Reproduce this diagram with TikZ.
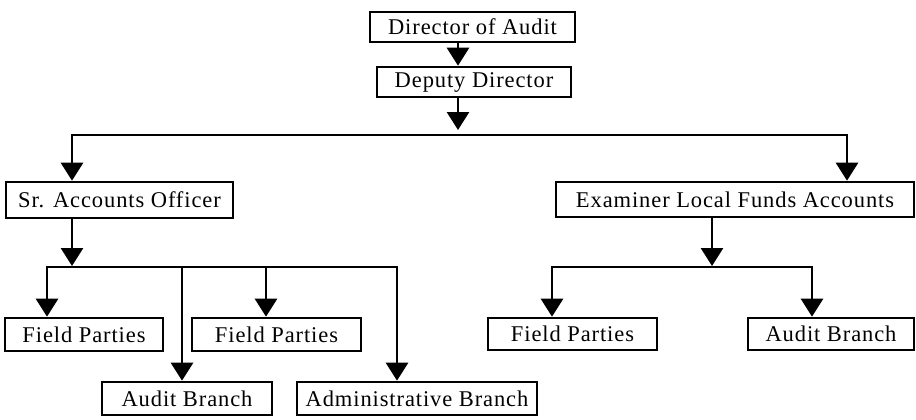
\documentclass[tikz,border=0pt]{standalone}
\usepackage{fontspec}
\setmainfont{Liberation Serif}[LetterSpace=4]
\usetikzlibrary{arrows.meta}
\begin{document}
\begin{tikzpicture}[x=1pt,y=-1pt,
  box/.style={draw, line width=2.6pt, inner sep=0pt, font=\fontsize{22.5}{26}\selectfont},
  con/.style={line width=2.8pt},
  tip/.style={-{Triangle[length=18pt,width=22pt]}},
  both/.style={{Triangle[length=18pt,width=22pt]}-{Triangle[length=18pt,width=22pt]}}]
\useasboundingbox (0,0) rectangle (916,420);
% boxes
\node[box, minimum width=205pt, minimum height=30pt] (dir) at (472.5,27) {Director of Audit};
\node[box, minimum width=194pt, minimum height=30pt] (dep) at (474,82) {Deputy Director};
\node[box, minimum width=227pt, minimum height=36pt] (sr) at (119.5,200) {Sr. Accounts Officer};
\node[box, minimum width=358pt, minimum height=35pt] (exa) at (735,199.5) {Examiner Local Funds Accounts};
\node[box, minimum width=158pt, minimum height=33pt] (fp1) at (84,334.5) {Field Parties};
\node[box, minimum width=169pt, minimum height=33pt] (fp2) at (276.5,334.5) {Field Parties};
\node[box, minimum width=170pt, minimum height=33pt] (ab1) at (187,398.5) {Audit Branch};
\node[box, minimum width=240pt, minimum height=33pt] (adm) at (417,398.5) {Administrative Branch};
\node[box, minimum width=169pt, minimum height=32pt] (fp3) at (572.5,334) {Field Parties};
\node[box, minimum width=166pt, minimum height=32pt] (ab2) at (831,334) {Audit Branch};
% coordinates
\coordinate (t1) at (458,0);
\coordinate (b1m) at (458,135);
\coordinate (b1l) at (72,135);
\coordinate (b1r) at (847,135);
\coordinate (b2m) at (72,267);
\coordinate (b2l) at (47,267);
\coordinate (b2r) at (397,267);
\coordinate (b2a) at (182,267);
\coordinate (b2b) at (266,267);
\coordinate (b3m) at (712,267);
\coordinate (b3l) at (552,267);
\coordinate (b3r) at (812,267);
% connectors
\draw[con,tip] (dir.south -| t1) -- (dep.north -| t1);
\draw[con,tip,shorten >=5pt] (dep.south -| b1m) -- (b1m);
\draw[con,both] (sr.north -| b1l) -- (b1l) -- (b1r) -- (exa.north -| b1r);
\draw[con,tip,shorten >=1pt] (sr.south -| b2m) -- (b2m);
\draw[con,both] (fp1.north -| b2l) -- (b2l) -- (b2r) -- (adm.north -| b2r);
\draw[con,tip] (b2a) -- (ab1.north -| b2a);
\draw[con,tip] (b2b) -- (fp2.north -| b2b);
\draw[con,tip,shorten >=1pt] (exa.south -| b3m) -- (b3m);
\draw[con,both] (fp3.north -| b3l) -- (b3l) -- (b3r) -- (ab2.north -| b3r);
\end{tikzpicture}
\end{document}
